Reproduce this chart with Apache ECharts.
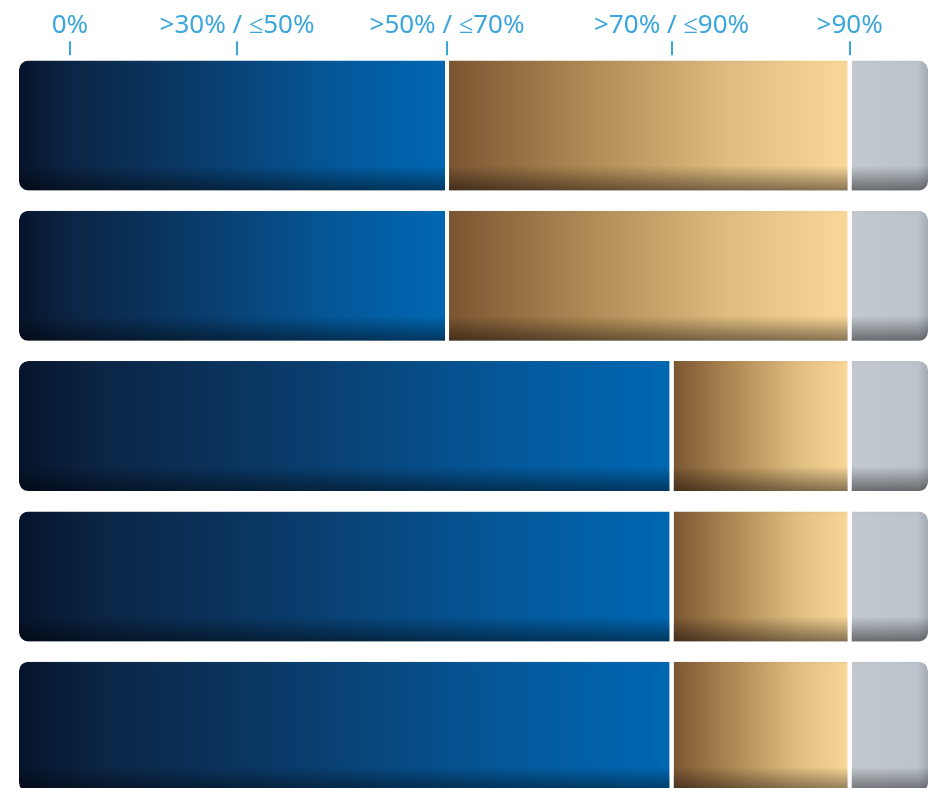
<!DOCTYPE html>
<html>
<head>
<meta charset="utf-8">
<script src="https://cdn.jsdelivr.net/npm/echarts@6/dist/echarts.min.js"></script>
<style>
html,body{margin:0;padding:0;background:#fff;overflow:hidden;}
#chart{width:930px;height:788px;}
</style>
</head>
<body>
<div id="chart"></div>
<script>
const categories = ['Row 1', 'Row 2', 'Row 3', 'Row 4', 'Row 5'];
const blueValues = [47.1, 47.1, 71.7, 71.7, 71.7];
const tanValues = [44.1, 44.1, 19.5, 19.5, 19.5];
const grayValues = [8.8, 8.8, 8.8, 8.8, 8.8];
const tickValues = [5.8, 24.1, 47.1, 71.7, 91.2];
const tickLabels = ['0%', '>30% / ≤50%', '>50% / ≤70%', '>70% / ≤90%', '>90%'];

const accent = '#3aa6dc';
const blueGrad = new echarts.graphic.LinearGradient(0, 0, 1, 0, [
  {offset: 0, color: '#06132a'},
  {offset: 0.12, color: '#0b2444'},
  {offset: 0.4, color: '#0a3a68'},
  {offset: 0.75, color: '#04589a'},
  {offset: 1, color: '#0068b3'}
]);
const tanGrad = new echarts.graphic.LinearGradient(0, 0, 1, 0, [
  {offset: 0, color: '#7a5431'},
  {offset: 0.35, color: '#b08a55'},
  {offset: 0.7, color: '#dfbc80'},
  {offset: 1, color: '#fbd899'}
]);
const grayGrad = new echarts.graphic.LinearGradient(0, 0, 1, 0, [
  {offset: 0, color: '#c3c9cf'},
  {offset: 0.85, color: '#bcc3cb'},
  {offset: 1, color: '#9ea5ad'}
]);
const shadeGrad = new echarts.graphic.LinearGradient(0, 0, 0, 1, [
  {offset: 0, color: 'rgba(255,255,255,0.08)'},
  {offset: 0.04, color: 'rgba(0,0,0,0)'},
  {offset: 0.8, color: 'rgba(0,0,0,0)'},
  {offset: 1, color: 'rgba(0,0,0,0.5)'}
]);

function labelFor(v) {
  let best = 0, d = Infinity;
  tickValues.forEach((t, i) => { const dd = Math.abs(t - v); if (dd < d) { d = dd; best = i; } });
  return tickLabels[best];
}

const segs = [
  {name: 'blue', data: blueValues, color: blueGrad, radius: [10, 0, 0, 10]},
  {name: 'tan', data: tanValues, color: tanGrad, radius: 0},
  {name: 'gray', data: grayValues, color: grayGrad, radius: [0, 10, 10, 0]}
];

const series = [];
segs.forEach(s => {
  series.push({
    type: 'bar', name: s.name, stack: 'base', data: s.data, barWidth: 134, barGap: '-100%',
    silent: true, z: 2,
    itemStyle: {color: s.color, borderRadius: s.radius, borderColor: '#fff', borderWidth: 2}
  });
});
segs.forEach(s => {
  series.push({
    type: 'bar', name: s.name + '-shade', stack: 'shade', data: s.data, barWidth: 134, barGap: '-100%',
    silent: true, z: 3,
    itemStyle: {color: shadeGrad, borderRadius: s.radius, borderColor: '#fff', borderWidth: 2}
  });
});

const chart = echarts.init(document.getElementById('chart'), null, {renderer: 'canvas'});
chart.setOption({
  backgroundColor: '#ffffff',
  animation: false,
  grid: {left: 17, right: 0, top: 50.35, bottom: -13.85, outerBoundsMode: 'none', containLabel: false},
  xAxis: {
    type: 'value', position: 'top', min: 0, max: 100, offset: -5,
    axisLine: {show: false},
    splitLine: {show: false},
    axisTick: {show: true, customValues: tickValues, length: 14, lineStyle: {color: accent, width: 2}},
    axisLabel: {
      customValues: tickValues, formatter: labelFor, margin: 17,
      color: accent, fontSize: 26, fontFamily: 'Noto Sans', verticalAlign: 'bottom', lineHeight: 26
    }
  },
  yAxis: {
    type: 'category', data: categories, inverse: true,
    axisLine: {show: false}, axisTick: {show: false}, axisLabel: {show: false}, splitLine: {show: false}
  },
  series: series
});
</script>
</body>
</html>
